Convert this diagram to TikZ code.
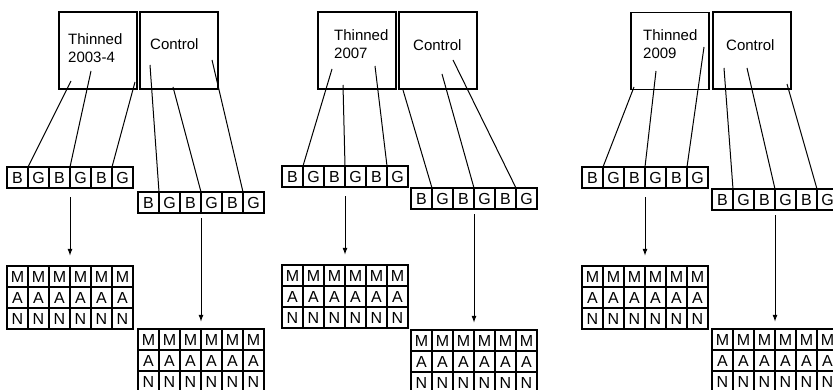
\documentclass[tikz,border=0pt]{standalone}
\usepackage{fontspec}
\setmainfont{Liberation Sans}
\usetikzlibrary{positioning}
\usetikzlibrary{fit}
\usetikzlibrary{arrows.meta}
\tikzset{plotbox/.style={draw,line width=1.3pt,minimum width=78pt,minimum height=77pt,inner sep=0pt}}
\tikzset{cell/.style={draw,line width=1.3pt,minimum size=21pt,inner sep=0pt,outer sep=0pt,font=\fontsize{16}{18}\selectfont}}
\tikzset{lbl/.style={inner sep=0pt,align=left,font=\fontsize{15}{18}\selectfont}}
\tikzset{link/.style={line width=1pt}}
\tikzset{thinarr/.style={->,line width=1pt,shorten <=9pt,shorten >=10pt}}
\tikzset{ctrlarr/.style={->,line width=1pt,shorten <=5pt,shorten >=7pt}}
\tikzset{>={Latex[length=7pt,width=5pt]}}

\begin{document}
\begin{tikzpicture}[x=1pt,y=-1pt]
\useasboundingbox (0,0) rectangle (833,390);
\clip (0,0) rectangle (833,390);

% 2003-4
\node[plotbox] (th1) at (98,50.5) {};
\node[plotbox] (co1) at (179,50.5) {};
\node[lbl,anchor=north west] (th1txt) at (68,33) {Thinned\\2003-4};
\node[lbl,anchor=north west] (co1txt) at (150,38) {Control};
\foreach \l [count=\i] in {B,G,B,G,B,G} {
  \node[cell] (th1-\i) at (21*\i-3.5,177.5) {\l};
  \node[cell] (co1-\i) at (21*\i+127.5,202.5) {\l};
}
\foreach \r [count=\j] in {M,A,N}
  \foreach \i in {1,...,6} {
    \node[cell] (th1-\r\i) at (21*\i-3.5,21*\j+255.5) {\r};
    \node[cell] (co1-\r\i) at (21*\i+127.5,21*\j+318.5) {\r};
  }
\node[fit=(th1-1)(th1-6),inner sep=0pt] (th1row) {};
\node[fit=(co1-1)(co1-6),inner sep=0pt] (co1row) {};
\node[fit=(th1-M1)(th1-N6),inner sep=0pt] (th1grid) {};
\node[fit=(co1-M1)(co1-N6),inner sep=0pt] (co1grid) {};
\coordinate (th1a) at (71,81);
\coordinate (th1b) at (91,71);
\coordinate (th1c) at (135,82);
\coordinate (co1a) at (150,65);
\coordinate (co1b) at (173,87);
\coordinate (co1c) at (212,60);
\foreach \c/\k in {a/2,b/4,c/6} {
  \draw[link] (th1\c) -- (th1-\k.north west);
  \draw[link] (co1\c) -- (co1-\k.north west);
}
\draw[thinarr] (th1row) -- (th1grid);
\draw[ctrlarr] (co1row) -- (co1grid);

% 2007
\node[plotbox] (th2) at (357,50.5) {};
\node[plotbox] (co2) at (438,50.5) {};
\node[lbl,anchor=north west] (th2txt) at (334,29) {Thinned\\2007};
\node[lbl,anchor=north west] (co2txt) at (413,39) {Control};
\foreach \l [count=\i] in {B,G,B,G,B,G} {
  \node[cell] (th2-\i) at (21*\i+271.5,176.5) {\l};
  \node[cell] (co2-\i) at (21*\i+400.5,198.5) {\l};
}
\foreach \r [count=\j] in {M,A,N}
  \foreach \i in {1,...,6} {
    \node[cell] (th2-\r\i) at (21*\i+271.5,21*\j+254.5) {\r};
    \node[cell] (co2-\r\i) at (21*\i+400.5,21*\j+319.5) {\r};
  }
\node[fit=(th2-1)(th2-6),inner sep=0pt] (th2row) {};
\node[fit=(co2-1)(co2-6),inner sep=0pt] (co2row) {};
\node[fit=(th2-M1)(th2-N6),inner sep=0pt] (th2grid) {};
\node[fit=(co2-M1)(co2-N6),inner sep=0pt] (co2grid) {};
\coordinate (th2a) at (332,69);
\coordinate (th2b) at (343,85);
\coordinate (th2c) at (375,66);
\coordinate (co2a) at (403,90);
\coordinate (co2b) at (442,74);
\coordinate (co2c) at (453,60);
\foreach \c/\k in {a/2,b/4,c/6} {
  \draw[link] (th2\c) -- (th2-\k.north west);
  \draw[link] (co2\c) -- (co2-\k.north west);
}
\draw[thinarr] (th2row) -- (th2grid);
\draw[ctrlarr] (co2row) -- (co2grid);

% 2009
\node[plotbox] (th3) at (670,51) {};
\node[plotbox] (co3) at (752,50.5) {};
\node[lbl,anchor=north west] (th3txt) at (643,29) {Thinned\\2009};
\node[lbl,anchor=north west] (co3txt) at (726,39) {Control};
\foreach \l [count=\i] in {B,G,B,G,B,G} {
  \node[cell] (th3-\i) at (21*\i+571.5,177.5) {\l};
  \node[cell] (co3-\i) at (21*\i+701.5,199.5) {\l};
}
\foreach \r [count=\j] in {M,A,N}
  \foreach \i in {1,...,6} {
    \node[cell] (th3-\r\i) at (21*\i+571.5,21*\j+255.5) {\r};
    \node[cell] (co3-\r\i) at (21*\i+701.5,21*\j+318.5) {\r};
  }
\node[fit=(th3-1)(th3-6),inner sep=0pt] (th3row) {};
\node[fit=(co3-1)(co3-6),inner sep=0pt] (co3row) {};
\node[fit=(th3-M1)(th3-N6),inner sep=0pt] (th3grid) {};
\node[fit=(co3-M1)(co3-N6),inner sep=0pt] (co3grid) {};
\coordinate (th3a) at (634,87);
\coordinate (th3b) at (656,71);
\coordinate (th3c) at (704,47);
\coordinate (co3a) at (724,68);
\coordinate (co3b) at (747,68);
\coordinate (co3c) at (787,84);
\foreach \c/\k in {a/2,b/4,c/6} {
  \draw[link] (th3\c) -- (th3-\k.north west);
  \draw[link] (co3\c) -- (co3-\k.north west);
}
\draw[thinarr] (th3row) -- (th3grid);
\draw[ctrlarr] (co3row) -- (co3grid);
\end{tikzpicture}
\end{document}
